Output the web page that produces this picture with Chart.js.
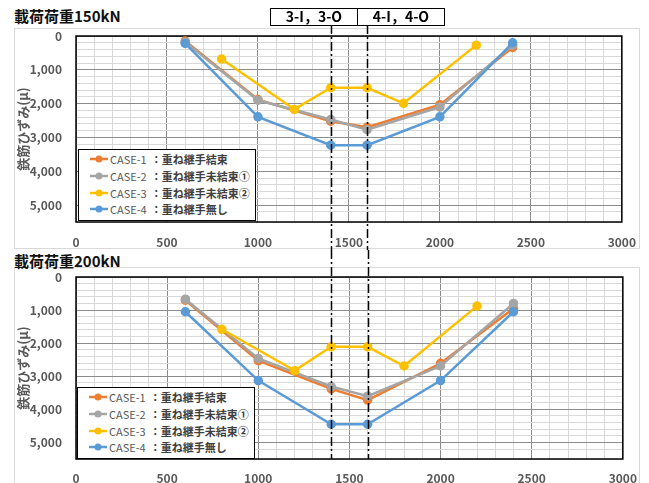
<!DOCTYPE html>
<html lang="ja">
<head>
<meta charset="utf-8">
<title>鉄筋ひずみ分布</title>
<script src="https://cdn.jsdelivr.net/npm/chart.js@4.4.0/dist/chart.umd.min.js"></script>
<style>
    body { margin: 0; background: #fff; font-family: 'Noto Sans CJK JP', sans-serif; }
    #page { position: relative; width: 649px; height: 483px; overflow: hidden; }
    .frame { position: absolute; left: 14px; width: 626px; border: 1px solid #d9d9d9; box-sizing: border-box; }
    .title { position: absolute; left: 14px; font-size: 15px; font-weight: bold; color: #111; line-height: 1; white-space: nowrap; }
    canvas { position: absolute; left: 0; }
    .legend { position: absolute; width: 178px; height: 72px; background: #fff; border: 1px solid #000; box-sizing: border-box; padding-top: 1px; }
    .legend .row { height: 16.7px; display: flex; align-items: center; font-size: 11px; color: #404040; white-space: nowrap; }
    .legend svg { margin-left: 11px; margin-right: 2px; }
    .legend .case { color: #595959; }
    .legend .desc { font-weight: bold; margin-left: 4px; }
    #sections { position: absolute; left: 270px; top: 8px; height: 18px; display: flex; border: 1.5px solid #000; box-sizing: border-box; background: #fff; }
    #sections div { width: 86px; text-align: center; font-size: 14px; font-weight: bold; line-height: 15px; color: #000; }
    #sections div + div { border-left: 1.5px solid #000; }
</style>
</head>
<body>
<div id="page">
    <div class="frame" style="top:28px; height:221px;"></div>
    <div class="frame" style="top:267px; height:230px;"></div>
    <div class="title" style="top:8px;">載荷荷重150kN</div>
    <div class="title" style="top:253px;">載荷荷重200kN</div>
    <canvas id="chart150" width="649" height="250" style="top:0;"></canvas>
    <canvas id="chart200" width="649" height="233" style="top:250px;"></canvas>
    <div id="sections"><div>3-I，3-O</div><div>4-I，4-O</div></div>
    <div class="legend" id="legend150" style="left:78px; top:149px;"></div>
    <div class="legend" id="legend200" style="left:77px; top:387px;"></div>
</div>
<script>
// Gauge positions (mm)
const gaugePos = [600, 1000, 1400, 1600, 2000, 2400];      // CASE-1, 2, 4
const gaugePosCase3 = [800, 1200, 1400, 1600, 1800, 2200]; // CASE-3
const sectionPos = [1400, 1600];

const seriesNames = [
    'CASE-1 ：重ね継手結束',
    'CASE-2 ：重ね継手未結束①',
    'CASE-3 ：重ね継手未結束②',
    'CASE-4 ：重ね継手無し'
];
const seriesColors = ['#ED7D31', '#A5A5A5', '#FFC000', '#5B9BD5'];

// 150kN strain (μ)
const case1_150 = [150, 1880, 2520, 2700, 2030, 340];
const case2_150 = [180, 1900, 2470, 2770, 2100, 270];
const case3_150 = [680, 2170, 1530, 1530, 1990, 270];
const case4_150 = [220, 2390, 3230, 3230, 2390, 200];

// 200kN strain (μ)
const case1_200 = [700, 2530, 3380, 3720, 2610, 950];
const case2_200 = [670, 2460, 3310, 3600, 2690, 800];
const case3_200 = [1580, 2830, 2110, 2110, 2690, 880];
const case4_200 = [1050, 3130, 4450, 4450, 3130, 1050];

const yTickLabels = ['0', '1,000', '2,000', '3,000', '4,000', '5,000'];
const xTickLabels = ['0', '500', '1000', '1500', '2000', '2500', '3000'];

const FONT = "'Noto Sans CJK JP', 'Noto Sans', sans-serif";

function toPoints(xs, ys) {
    return xs.map((x, i) => ({ x: x, y: ys[i] }));
}

// Plot border and the dash-dot section lines
const framePlugin = {
    id: 'frame',
    beforeDatasetsDraw(chart) {
        const { ctx, chartArea: a } = chart;
        ctx.save();
        ctx.strokeStyle = '#000';
        ctx.lineWidth = 1.5;
        ctx.strokeRect(a.left, a.top, a.right - a.left, a.bottom - a.top);
        ctx.restore();
    },
    afterDatasetsDraw(chart, args, opts) {
        const { ctx } = chart;
        const xScale = chart.scales.x;
        ctx.save();
        ctx.strokeStyle = '#000';
        ctx.lineWidth = 1.5;
        ctx.setLineDash([9, 3, 2, 3]);
        sectionPos.forEach(v => {
            const px = Math.round(xScale.getPixelForValue(v)) + 0.5;
            ctx.beginPath();
            ctx.moveTo(px, opts.top);
            ctx.lineTo(px, opts.bottom);
            ctx.stroke();
        });
        ctx.restore();
    }
};

function makeChart(canvasId, series, padTop, xAxisHeight, xTickPad, lineTop, lineBottom) {
    const datasets = series.map((s, i) => ({
        label: seriesNames[i],
        data: toPoints(i === 2 ? gaugePosCase3 : gaugePos, s),
        borderColor: seriesColors[i],
        backgroundColor: seriesColors[i],
        borderWidth: 2.5,
        pointRadius: 3.5,
        pointHoverRadius: 3.5,
        tension: 0,
        order: 3 - i
    }));

    return new Chart(document.getElementById(canvasId), {
        type: 'line',
        data: { datasets },
        plugins: [framePlugin],
        options: {
            responsive: false,
            animation: false,
            devicePixelRatio: 1,
            layout: { padding: { left: 14, right: 26, top: padTop, bottom: 0 } },
            plugins: {
                legend: { display: false },
                tooltip: { enabled: false },
                frame: { top: lineTop, bottom: lineBottom }
            },
            scales: {
                x: {
                    type: 'linear',
                    min: 0,
                    max: 3000,
                    afterFit(scale) { scale.height = xAxisHeight; },
                    border: { display: false },
                    grid: {
                        drawTicks: false,
                        lineWidth: 1,
                        color: ctx => (ctx.tick && ctx.tick.value % 500 === 0) ? '#8c8c8c' : '#d9d9d9'
                    },
                    ticks: {
                        stepSize: 100,
                        autoSkip: false,
                        maxRotation: 0,
                        padding: xTickPad,
                        color: '#595959',
                        font: { family: FONT, size: 12, weight: 'bold' },
                        callback: v => (v % 500 === 0 ? xTickLabels[v / 500] : '')
                    }
                },
                y: {
                    type: 'linear',
                    reverse: true,
                    min: 0,
                    max: 5500,
                    afterFit(scale) { scale.width = 62; },
                    border: { display: false },
                    grid: {
                        drawTicks: false,
                        lineWidth: 1,
                        color: ctx => (ctx.tick && ctx.tick.value % 1000 === 0) ? '#8c8c8c' : '#d9d9d9'
                    },
                    ticks: {
                        stepSize: 200,
                        autoSkip: false,
                        padding: 14,
                        color: '#595959',
                        font: { family: FONT, size: 12, weight: 'bold' },
                        callback: v => (v % 1000 === 0 ? yTickLabels[v / 1000] : '')
                    },
                    title: {
                        display: true,
                        text: '鉄筋ひずみ(μ)',
                        color: '#595959',
                        padding: { top: 1, bottom: 0 },
                        font: { family: FONT, size: 13, weight: 'bold' }
                    }
                }
            }
        }
    });
}

function buildLegend(id) {
    const box = document.getElementById(id);
    box.innerHTML = seriesNames.map((name, i) => {
        const parts = name.split(' ');
        return `
            <div class="row">
                <svg width="18" height="10"><line x1="0" y1="5" x2="18" y2="5" stroke="${seriesColors[i]}" stroke-width="2.5"/><circle cx="9" cy="5" r="3.5" fill="${seriesColors[i]}"/></svg>
                <span class="case">${parts[0]}</span><span class="desc">${parts[1]}</span>
            </div>`;
    }).join('');
}

makeChart('chart150', [case1_150, case2_150, case3_150, case4_150], 36, 28, 13, 25, 250);
makeChart('chart200', [case1_200, case2_200, case3_200, case4_200], 27, 24, 12, 0, 209);
buildLegend('legend150');
buildLegend('legend200');
</script>
</body>
</html>
